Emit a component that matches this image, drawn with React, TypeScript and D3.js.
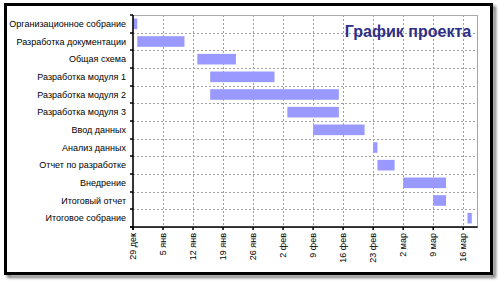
import React from "react";
import * as d3 from "d3";

const tasks = [
  "Организационное собрание",
  "Разработка документации",
  "Общая схема",
  "Разработка модуля 1",
  "Разработка модуля 2",
  "Разработка модуля 3",
  "Ввод данных",
  "Анализ данных",
  "Отчет по разработке",
  "Внедрение",
  "Итоговый отчет",
  "Итоговое собрание",
];
const starts = [
  "2008-12-29", "2008-12-30", "2009-01-13", "2009-01-16", "2009-01-16", "2009-02-03",
  "2009-02-09", "2009-02-23", "2009-02-24", "2009-03-02", "2009-03-09", "2009-03-17",
];
const ends = [
  "2008-12-30", "2009-01-10", "2009-01-22", "2009-01-31", "2009-02-15", "2009-02-15",
  "2009-02-21", "2009-02-24", "2009-02-28", "2009-03-12", "2009-03-12", "2009-03-18",
];
const tickDates = [
  "2008-12-29", "2009-01-05", "2009-01-12", "2009-01-19", "2009-01-26", "2009-02-02",
  "2009-02-09", "2009-02-16", "2009-02-23", "2009-03-02", "2009-03-09", "2009-03-16",
];
const tickLabels = [
  "29 дек", "5 янв", "12 янв", "19 янв", "26 янв", "2 фев",
  "9 фев", "16 фев", "23 фев", "2 мар", "9 мар", "16 мар",
];
const title = "График проекта";
const domainStart = "2008-12-29T00:00:00Z";
const domainEnd = "2009-03-19T08:00:00Z";

const W = 500;
const H = 281;
const plot = { left: 133, top: 15, right: 477.5, bottom: 227 };
const font = "Arial, 'Liberation Sans', sans-serif";

const toDate = (s: string) => new Date(s.length === 10 ? s + "T00:00:00Z" : s);

export default function App() {
  const x = d3
    .scaleUtc()
    .domain([toDate(domainStart), toDate(domainEnd)])
    .range([plot.left, plot.right]);
  const y = d3
    .scaleBand<string>()
    .domain(tasks)
    .range([plot.top, plot.bottom])
    .paddingInner(0)
    .paddingOuter(0);
  const bw = y.bandwidth();
  const barH = bw * 0.6;
  const ticks = tickDates.map(toDate);
  const rowEdges = tasks.map((t) => (y(t) as number) + bw);

  return (
    <svg
      width={W}
      height={H}
      style={{ position: "absolute", left: 0, top: 0, background: "#fff" }}
      fontFamily={font}
    >
      <defs>
        <filter id="sh" x="-5%" y="-5%" width="110%" height="110%">
          <feGaussianBlur stdDeviation="1.5" />
        </filter>
      </defs>
      <rect x={0} y={0} width={W} height={H} fill="#fff" />
      {/* frame shadow */}
      <rect x={8.5} y={7.5} width={486} height={269} fill="none" stroke="#777" strokeWidth={3} filter="url(#sh)" />
      <rect x={5.5} y={4.5} width={486} height={269} fill="#fff" stroke="#000" strokeWidth={3} />

      {/* grid */}
      <g stroke="#a0a0a0" strokeWidth={1} strokeDasharray="2,2">
        {ticks.slice(1).map((d, i) => (
          <line key={"v" + i} x1={Math.round(x(d)) + 0.5} x2={Math.round(x(d)) + 0.5} y1={plot.top} y2={plot.bottom} />
        ))}
        {rowEdges.slice(0, -1).map((v, i) => (
          <line key={"h" + i} x1={plot.left} x2={plot.right} y1={Math.round(v) + 0.5} y2={Math.round(v) + 0.5} />
        ))}
      </g>
      {/* plot border */}
      <rect
        x={plot.left}
        y={plot.top + 0.5}
        width={plot.right - plot.left}
        height={plot.bottom - plot.top}
        fill="none"
        stroke="#aaa"
        strokeWidth={1}
      />

      {/* title */}
      <text x={408} y={37} textAnchor="middle" fontSize={16} fontWeight="bold" fill="#2e2e86">
        {title}
      </text>

      {/* bars */}
      {tasks.map((t, i) => {
        const x0 = x(toDate(starts[i]));
        const x1 = x(toDate(ends[i]));
        return (
          <rect
            key={t}
            x={x0}
            y={(y(t) as number) + (bw - barH) / 2}
            width={Math.max(1, x1 - x0)}
            height={barH}
            fill="#9999ff"
          />
        );
      })}

      {/* axes */}
      <g stroke="#000" strokeWidth={1.5}>
        <line x1={plot.left} x2={plot.left} y1={plot.top} y2={plot.bottom + 3} />
        <line x1={plot.left - 3} x2={plot.right} y1={plot.bottom} y2={plot.bottom} />
        {[plot.top, ...rowEdges].map((v, i) => (
          <line key={"yt" + i} x1={plot.left - 3} x2={plot.left} y1={Math.round(v)} y2={Math.round(v)} />
        ))}
        {ticks.map((d, i) => (
          <line key={"xt" + i} x1={x(d)} x2={x(d)} y1={plot.bottom} y2={plot.bottom + 3} />
        ))}
      </g>

      {/* category labels */}
      {tasks.map((t) => (
        <text
          key={"l" + t}
          x={126}
          y={(y(t) as number) + bw / 2}
          dy="0.35em"
          textAnchor="end"
          fontSize={9}
          fill="#000"
        >
          {t}
        </text>
      ))}

      {/* tick labels */}
      {ticks.map((d, i) => (
        <text
          key={"tl" + i}
          transform={`translate(${x(d) + 3.2},233) rotate(-90)`}
          textAnchor="end"
          fontSize={9}
          fill="#000"
        >
          {tickLabels[i]}
        </text>
      ))}
    </svg>
  );
}
